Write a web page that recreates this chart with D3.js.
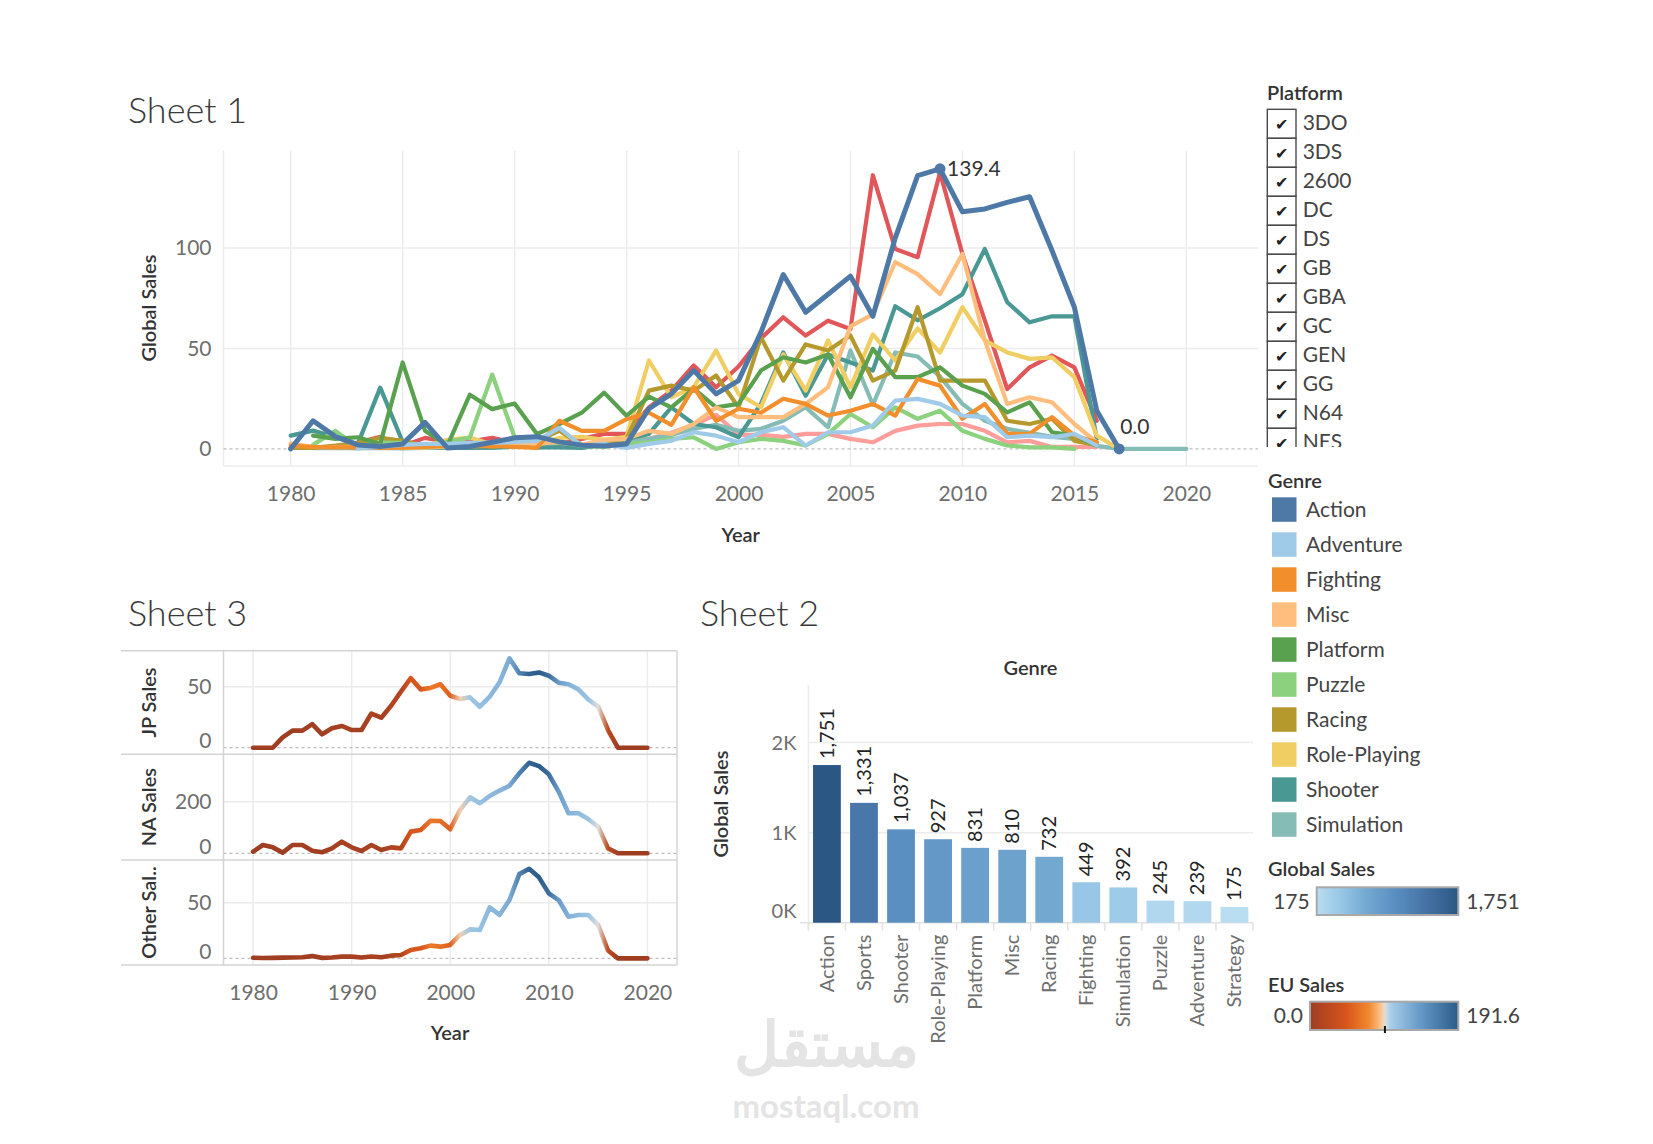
<!DOCTYPE html>
<html lang="en">
<head>
<meta charset="UTF-8">
<title>Video Game Sales</title>
<script src="https://cdnjs.cloudflare.com/ajax/libs/d3/7.8.5/d3.min.js"></script>
<style>
  body { margin: 0; background: #fff; }
  svg text { font-family: Lato, "Open Sans", sans-serif; }
</style>
</head>
<body>
<svg id="dash"></svg>
<script>
var W = 1653, H = 1144;

// ---------- data ----------
var years = d3.range(1980, 2021);

// Sheet 1: global sales per year, one array per genre (1980..2020)
var action = [0, 14, 6.1, 2, 1.2, 2.5, 13.2, 0.5, 1.2, 3.3,
  5.5, 6.1, 3.5, 1.8, 1.4, 2.5, 20, 27.4, 39, 27.4,
  34, 58, 86.8, 68, 77, 86, 66, 105, 136, 139.4,
  118, 119.4, 122.7, 125.5, 98.7, 70.5, 19, 0, null, null, null];
var adventure = [null, null, null, 0.4, 1, 2, 2.5, 2.5, 3, 3,
  3.5, 4, 10.5, 1.5, 2.5, 0.5, 2.5, 4, 8.3, 6.6,
  3.3, 8.3, 10.8, 1.7, 8.3, 8.3, 11.6, 24, 24.9, 22.4,
  16.6, 15.8, 5.8, 6.6, 5.8, 7.5, 1.7, null, null, null, null];
var fighting = [1.5, 1, 0.8, 0.8, 0.5, 0.6, 1, 1.5, 1.2, 1.5,
  1, 0.5, 14, 9, 9, 14.8, 18, 12, 30.7, 14,
  20, 18, 25, 22.4, 16.6, 19, 22.4, 16.6, 34.8, 31.5,
  15, 22.4, 7.5, 7.5, 15.8, 6.6, 3.3, null, null, null, null];
var misc = [2.7, 1, 0.9, 1.2, 1.5, 0.5, 0.8, 1.1, 3, 1.5,
  3, 2.5, 3.5, 2, 4.5, 5, 9, 7.5, 12.4, 20.7,
  15.8, 15.8, 15.8, 22.4, 30.7, 61, 67, 93, 87, 77,
  97, 54, 22.4, 25.7, 23.2, 12.4, 3.3, null, null, null, null];
var platform = [null, 6.6, 5, 5.8, 2.5, 43, 9, 1.6, 27, 19.8,
  22.6, 7.4, 12.4, 18, 28, 16.5, 26, 20.7, 30, 20.7,
  22.4, 39, 45.6, 43, 47, 25.7, 49.8, 35.7, 35.7, 40.6,
  31.5, 27.4, 18.2, 23.2, 8.3, 6.6, 1.7, null, null, null, null];
var puzzle = [null, 2, 9, 0.8, 3.1, 3, 0.5, 3.5, 5.6, 37,
  5.8, 3.5, 3.2, 1.5, 1, 2.5, 3.3, 5, 5.8, 0,
  3.3, 5, 4, 1.7, 7.5, 17.4, 10.8, 20.7, 15, 19,
  9, 5, 1.7, 0.8, 0.8, 0, null, null, null, null, null];
var racing = [0.5, 0.5, 1.6, 3, 5.5, 4, 1.5, 2, 3, 1,
  2.5, 4, 9, 2, 3.5, 5, 29, 31.5, 29, 36.5,
  20.7, 55.6, 34, 52, 49, 56.4, 34, 39, 70.5, 34,
  34, 34, 14, 12.4, 15, 4, 2, null, null, null, null];
var rolePlaying = [null, null, null, null, null, null, 1.5, 4.5, 5.7, 2.2,
  4.5, 2, 5.5, 6, 4.5, 6, 44, 25.7, 30.7, 49,
  27.4, 20.7, 47, 29, 54, 30.7, 57, 44, 60, 48,
  70.5, 54, 48, 44.8, 45.6, 35.7, 6.6, 0, null, null, null];
var shooter = [6.6, 9.1, 5.8, 2.5, 30.5, 3.5, 1, 0.6, 0.5, 0.6,
  1.5, 0.8, 0.8, 0.5, 2, 5, 7.5, 20.7, 12.4, 10.8,
  5.8, 22.4, 48, 26.5, 47, 43, 39, 71, 64, 70,
  77, 99.5, 73, 63, 66, 66, 5, null, null, null, null];
var simulation = [null, 0.4, 0.5, 0.3, 0.5, 0.2, 0.5, 0.5, 0.6, 0.5,
  1, 1.5, 3, 1.5, 2, 3.5, 5, 7, 10, 12,
  9, 10, 14, 20.7, 10.8, 49, 22, 48, 46, 36,
  22.4, 14, 10, 8, 6, 5, 1.5, 0, 0, 0, 0];
var sports = [0.5, 0.8, 1, 3.2, 6, 1.5, 5.5, 3.5, 3.6, 5.5,
  3, 5.5, 2.5, 5, 7.5, 7.5, 20.7, 29, 41.5, 30.7,
  41, 55, 65.5, 56.4, 63.8, 59.7, 136.2, 99.5, 95.4, 137.5,
  97, 64, 29.8, 40.6, 46.4, 40.6, 14, null, null, null, null];
var strategy = [null, null, null, null, null, null, null, null, null, null,
  null, 0.5, 3, 1, 4, 6, 5, 8, 12, 17,
  7, 7, 6, 7.5, 7.5, 5, 3.3, 9, 11.6, 12.4,
  12.4, 9, 3.3, 4, 1, 1, 1, null, null, null, null];

var lineGenres = ['Action', 'Adventure', 'Fighting', 'Misc', 'Platform', 'Puzzle',
  'Racing', 'Role-Playing', 'Shooter', 'Simulation', 'Sports', 'Strategy'];
var lineValues = [action, adventure, fighting, misc, platform, puzzle,
  racing, rolePlaying, shooter, simulation, sports, strategy];
var genreColors = ['#4e79a7', '#a0cbe8', '#f28e2b', '#ffbe7d', '#59a14f', '#8cd17d',
  '#b6992d', '#f1ce63', '#499894', '#86bcb6', '#e15759', '#ff9d9a'];

// Sheet 3: regional sales per year, colored by EU sales
var jpSales = [0, 0, 0, 8.5, 14, 14, 19.4, 11, 16, 17.8,
  14.5, 14.5, 28, 24.6, 34.4, 46, 57, 47.8, 49, 52,
  42.6, 40, 41.3, 33.6, 41.8, 53.6, 73.2, 61, 60.4, 61.7,
  59, 53.3, 52, 47.8, 39.6, 33.6, 14.5, 0, 0, 0, 0];
var naSales = [6.5, 32, 23, 2.6, 32, 32, 10, 4, 19, 45,
  23, 9, 32, 13, 23, 19, 84, 90, 126, 125,
  93, 168, 217, 194, 222, 243, 262, 310, 351, 338,
  306, 239, 155, 155, 133, 103, 19, 0, 0, 0, 0];
var otherSales = [0.5, 0.3, 0.4, 0.6, 0.8, 1, 2, 0.4, 0.8, 1.5,
  1.5, 0.8, 1.6, 1, 2.4, 3, 7.5, 9, 11.4, 10.5,
  12, 21, 26, 25.4, 45.8, 39, 52.4, 75.7, 80.5, 72.8,
  58.4, 52.4, 37.4, 39, 39, 30, 7, 0, 0, 0, 0];
var euSales = [0.5, 1.9, 1.6, 0.8, 2.1, 4.7, 2.8, 1.4, 6.6, 8.4,
  7.6, 3.9, 11.7, 4.7, 14.9, 14.9, 47.3, 48.3, 66.9, 62.7,
  52.8, 94, 109.7, 114, 120, 122, 129, 160, 184.4, 191.6,
  176.6, 140, 125, 118, 112, 97, 26.8, 0, 0, 0, 0];

// Sheet 2: global sales by genre
var barGenres = ['Action', 'Sports', 'Shooter', 'Role-Playing', 'Platform', 'Misc',
  'Racing', 'Fighting', 'Simulation', 'Puzzle', 'Adventure', 'Strategy'];
var barSales = [1751, 1331, 1037, 927, 831, 810, 732, 449, 392, 245, 239, 175];

var platforms = ['3DO', '3DS', '2600', 'DC', 'DS', 'GB', 'GBA', 'GC', 'GEN', 'GG', 'N64', 'NES'];
var legendGenres = lineGenres.slice(0, 10);

// ---------- colour scales ----------
var euColor = d3.scaleLinear()
  .domain([0, 0.25, 0.4, 0.48, 0.505, 0.54, 0.75, 1].map(function(t) { return t * 191.6; }))
  .range(['#9e3d22', '#d9561c', '#f28a30', '#fbc58f', '#e2dfdc', '#a9cfea', '#6497c6', '#2b5b88']);
var globalColor = d3.scaleLinear()
  .domain([175, 449, 732, 1037, 1331, 1751])
  .range(['#b9ddf1', '#97c6e6', '#73a8d1', '#5a8fc2', '#4a77aa', '#2a5783']);

var svg = d3.select('#dash').attr('width', W).attr('height', H);
var defs = svg.append('defs');
var gridCol = '#ececec', tickCol = '#6e6e6e', titleCol = '#333';

function styleAxis(g, size) {
  g.attr('font-family', 'Lato, sans-serif').attr('font-size', size).style('color', tickCol);
  g.select('.domain').remove();
}

// ---------- watermark ----------
svg.append('text').attr('x', 826).attr('y', 1066).attr('text-anchor', 'middle')
  .attr('font-family', 'DejaVu Sans').attr('font-weight', 'bold').attr('font-size', 62)
  .attr('fill', '#e4e4e4').text('مستقل');
svg.append('text').attr('x', 826).attr('y', 1118).attr('text-anchor', 'middle')
  .attr('font-family', 'DejaVu Sans').attr('font-weight', 'bold').attr('font-size', 33)
  .attr('fill', '#e4e4e4').text('mostaql.com');

// ---------- titles ----------
[['Sheet 1', 128, 123], ['Sheet 3', 128, 626], ['Sheet 2', 700, 626]].forEach(function(t) {
  svg.append('text').attr('x', t[1]).attr('y', t[2]).attr('font-size', 36)
    .attr('font-weight', 300).attr('fill', '#3a3a3a').text(t[0]);
});

// ---------- Sheet 1 ----------
var x1 = d3.scaleLinear().domain([1977, 2023.2]).range([223.5, 1258]);
var y1 = d3.scaleLinear().domain([-8.5, 148.4]).range([466, 150.7]);
var g1 = svg.append('g');

g1.selectAll('.vg').data(d3.range(1980, 2021, 5)).enter().append('line')
  .attr('x1', function(d) { return x1(d); }).attr('x2', function(d) { return x1(d); })
  .attr('y1', 150.7).attr('y2', 466).attr('stroke', gridCol).attr('stroke-width', 1.5);
g1.selectAll('.hg').data([50, 100]).enter().append('line')
  .attr('x1', 223.5).attr('x2', 1258)
  .attr('y1', function(d) { return y1(d); }).attr('y2', function(d) { return y1(d); })
  .attr('stroke', gridCol).attr('stroke-width', 1.5);
g1.append('line').attr('x1', 223.5).attr('x2', 223.5).attr('y1', 150.7).attr('y2', 466)
  .attr('stroke', gridCol).attr('stroke-width', 1.5);
g1.append('line').attr('x1', 223.5).attr('x2', 1258).attr('y1', 466).attr('y2', 466)
  .attr('stroke', gridCol).attr('stroke-width', 1.5);
g1.append('line').attr('x1', 223.5).attr('x2', 1258).attr('y1', y1(0)).attr('y2', y1(0))
  .attr('stroke', '#bdbdbd').attr('stroke-width', 1.2).attr('stroke-dasharray', '3,3');

var line1 = d3.line()
  .defined(function(d) { return d[1] != null; })
  .x(function(d) { return x1(d[0]); })
  .y(function(d) { return y1(d[1]); });

// draw from last to first so Action sits on top
for (var i = lineGenres.length - 1; i >= 0; i--) {
  var pts = years.map(function(yr, k) { return [yr, lineValues[i][k]]; });
  g1.append('path').datum(pts)
    .attr('d', line1)
    .attr('fill', 'none')
    .attr('stroke', genreColors[i])
    .attr('stroke-width', i === 0 ? 5 : 4.2)
    .attr('stroke-linejoin', 'round')
    .attr('stroke-linecap', 'round');
}

// marked points on Action
var marks = [[2009, 139.4], [2017, 0]];
g1.selectAll('.mk').data(marks).enter().append('circle')
  .attr('cx', function(d) { return x1(d[0]); }).attr('cy', function(d) { return y1(d[1]); })
  .attr('r', 5.5).attr('fill', genreColors[0]);
g1.append('text').attr('x', x1(2009) + 7).attr('y', y1(139.4)).attr('dy', '0.35em')
  .attr('font-size', 21).attr('fill', titleCol).text(d3.format('.1f')(139.4));
g1.append('text').attr('x', x1(2017) + 1).attr('y', y1(0) - 22).attr('dy', '0.35em')
  .attr('font-size', 21).attr('fill', titleCol).text(d3.format('.1f')(0));

g1.append('g').attr('transform', 'translate(0,466)')
  .call(d3.axisBottom(x1).tickValues(d3.range(1980, 2021, 5)).tickFormat(d3.format('d'))
    .tickSize(0).tickPadding(20))
  .call(styleAxis, 21);
g1.append('g').attr('transform', 'translate(223.5,0)')
  .call(d3.axisLeft(y1).tickValues([0, 50, 100]).tickSize(0).tickPadding(12))
  .call(styleAxis, 21);
g1.append('text').attr('x', 740.7).attr('y', 542).attr('text-anchor', 'middle')
  .attr('font-size', 20).attr('font-weight', 600).attr('fill', titleCol).text('Year');
g1.append('text').attr('transform', 'translate(149,308) rotate(-90)').attr('dy', '0.35em')
  .attr('text-anchor', 'middle').attr('font-size', 20).attr('font-weight', 600)
  .attr('fill', titleCol).text('Global Sales');

// ---------- Sheet 3 ----------
var x3 = d3.scaleLinear().domain([1977, 2023]).range([223.5, 677]);
var panels = [
  { label: 'JP Sales', values: jpSales, top: 650.7, bottom: 754.3, domain: [-5.4, 79.5], tick: 50 },
  { label: 'NA Sales', values: naSales, top: 754.3, bottom: 860, domain: [-26, 383.7], tick: 200 },
  { label: 'Other Sal..', values: otherSales, top: 860, bottom: 965, domain: [-6, 88.4], tick: 50 }
];
var g3 = svg.append('g');

var grad = defs.append('linearGradient').attr('id', 'euGrad')
  .attr('gradientUnits', 'userSpaceOnUse')
  .attr('x1', x3(1980)).attr('x2', x3(2020)).attr('y1', 0).attr('y2', 0);
grad.selectAll('stop').data(years).enter().append('stop')
  .attr('offset', function(d) { return (d - 1980) / 40; })
  .attr('stop-color', function(d, k) { return euColor(euSales[k]); });

g3.selectAll('.vg').data(d3.range(1980, 2021, 10)).enter().append('line')
  .attr('x1', function(d) { return x3(d); }).attr('x2', function(d) { return x3(d); })
  .attr('y1', 650.7).attr('y2', 965).attr('stroke', gridCol).attr('stroke-width', 1.5);

panels.forEach(function(p) {
  var y = d3.scaleLinear().domain(p.domain).range([p.bottom, p.top]);
  g3.append('line').attr('x1', 223.5).attr('x2', 677).attr('y1', y(p.tick)).attr('y2', y(p.tick))
    .attr('stroke', gridCol).attr('stroke-width', 1.5);
  g3.append('line').attr('x1', 223.5).attr('x2', 677).attr('y1', y(0)).attr('y2', y(0))
    .attr('stroke', '#bdbdbd').attr('stroke-width', 1.2).attr('stroke-dasharray', '3,3');
  var ln = d3.line().x(function(d, k) { return x3(years[k]); }).y(function(d) { return y(d); });
  g3.append('path').datum(p.values).attr('d', ln).attr('fill', 'none')
    .attr('stroke', 'url(#euGrad)').attr('stroke-width', 4.6)
    .attr('stroke-linejoin', 'round').attr('stroke-linecap', 'round');
  var ax = g3.append('g').attr('transform', 'translate(223.5,0)')
    .call(d3.axisLeft(y).tickValues([0, p.tick]).tickSize(0).tickPadding(12))
    .call(styleAxis, 21);
  ax.selectAll('.tick').filter(function(d) { return d === 0; }).select('text').attr('y', -7);
  g3.append('text').attr('transform', 'translate(149,' + ((p.top + p.bottom) / 2) + ') rotate(-90)')
    .attr('dy', '0.35em').attr('text-anchor', 'middle').attr('font-size', 20)
    .attr('font-weight', 600).attr('fill', titleCol).text(p.label);
  g3.append('line').attr('x1', 121).attr('x2', 677).attr('y1', p.top).attr('y2', p.top)
    .attr('stroke', '#d4d4d4').attr('stroke-width', 1.5);
});
g3.append('line').attr('x1', 121).attr('x2', 677).attr('y1', 965).attr('y2', 965)
  .attr('stroke', '#d4d4d4').attr('stroke-width', 1.5);
[223.5, 677].forEach(function(xv) {
  g3.append('line').attr('x1', xv).attr('x2', xv).attr('y1', 650.7).attr('y2', 965)
    .attr('stroke', '#d4d4d4').attr('stroke-width', 1.5);
});
g3.append('g').attr('transform', 'translate(0,965)')
  .call(d3.axisBottom(x3).tickValues(d3.range(1980, 2021, 10)).tickFormat(d3.format('d'))
    .tickSize(0).tickPadding(20))
  .call(styleAxis, 21);
g3.append('text').attr('x', 450).attr('y', 1040).attr('text-anchor', 'middle')
  .attr('font-size', 20).attr('font-weight', 600).attr('fill', titleCol).text('Year');

// ---------- Sheet 2 ----------
var xb = d3.scaleBand().domain(barGenres).range([808.4, 1253]).paddingInner(0.25).paddingOuter(0.125);
var yb = d3.scaleLinear().domain([0, 2640]).range([922.7, 685]);
var g2 = svg.append('g');

g2.selectAll('.hg').data([1000, 2000]).enter().append('line')
  .attr('x1', 808.4).attr('x2', 1253)
  .attr('y1', function(d) { return yb(d); }).attr('y2', function(d) { return yb(d); })
  .attr('stroke', gridCol).attr('stroke-width', 1.5);
g2.append('line').attr('x1', 808.4).attr('x2', 808.4).attr('y1', 685).attr('y2', 930)
  .attr('stroke', gridCol).attr('stroke-width', 1.5);
g2.append('line').attr('x1', 800).attr('x2', 1253).attr('y1', yb(0)).attr('y2', yb(0))
  .attr('stroke', '#e2e2e2').attr('stroke-width', 1.5);
var gap = (xb.step() - xb.bandwidth()) / 2;
var seps = barGenres.map(function(d) { return xb(d) - gap; }).concat([xb(barGenres[11]) + xb.bandwidth() + gap]);
g2.selectAll('.sep').data(seps).enter().append('line')
  .attr('x1', function(d) { return d; }).attr('x2', function(d) { return d; })
  .attr('y1', yb(0)).attr('y2', yb(0) + 8).attr('stroke', '#e2e2e2').attr('stroke-width', 1.5);

g2.selectAll('.bar').data(barGenres).enter().append('rect')
  .attr('x', function(d) { return xb(d); })
  .attr('y', function(d, k) { return yb(barSales[k]); })
  .attr('width', xb.bandwidth())
  .attr('height', function(d, k) { return yb(0) - yb(barSales[k]); })
  .attr('fill', function(d, k) { return globalColor(barSales[k]); });
g2.selectAll('.blab').data(barGenres).enter().append('text')
  .attr('transform', function(d, k) {
    return 'translate(' + (xb(d) + xb.bandwidth() / 2) + ',' + (yb(barSales[k]) - 6) + ') rotate(-90)';
  })
  .attr('dy', '0.35em').attr('font-size', 20).attr('fill', '#222')
  .text(function(d, k) { return d3.format(',')(barSales[k]); });

var axb = g2.append('g').attr('transform', 'translate(0,' + yb(0) + ')')
  .call(d3.axisBottom(xb).tickSize(0))
  .call(styleAxis, 20);
axb.selectAll('text').attr('transform', 'rotate(-90)').attr('text-anchor', 'end')
  .attr('x', -12).attr('y', 0).attr('dy', '0.35em');
var ayb = g2.append('g').attr('transform', 'translate(808.4,0)')
  .call(d3.axisLeft(yb).tickValues([0, 1000, 2000])
    .tickFormat(function(d) { return (d / 1000) + 'K'; }).tickSize(0).tickPadding(12))
  .call(styleAxis, 20);
ayb.selectAll('.tick').filter(function(d) { return d === 0; }).select('text').attr('y', -12);
g2.append('text').attr('x', 1030.5).attr('y', 675).attr('text-anchor', 'middle')
  .attr('font-size', 20).attr('font-weight', 600).attr('fill', titleCol).text('Genre');
g2.append('text').attr('transform', 'translate(721,804) rotate(-90)').attr('dy', '0.35em')
  .attr('text-anchor', 'middle').attr('font-size', 20).attr('font-weight', 600)
  .attr('fill', titleCol).text('Global Sales');

// ---------- legends ----------
var gl = svg.append('g');
gl.append('text').attr('x', 1267).attr('y', 93).attr('dy', '0.35em').attr('font-size', 20)
  .attr('font-weight', 600).attr('fill', titleCol).text('Platform');
defs.append('clipPath').attr('id', 'platClip').append('rect')
  .attr('x', 1255).attr('y', 100).attr('width', 300).attr('height', 347);
var gp = gl.append('g').attr('clip-path', 'url(#platClip)');
var rowY = d3.scaleLinear().domain([0, 1]).range([109.3, 138.3]);
var prow = gp.selectAll('.pr').data(platforms).enter().append('g')
  .attr('transform', function(d, k) { return 'translate(1267.3,' + rowY(k) + ')'; });
prow.append('rect').attr('width', 28.7).attr('height', 29).attr('fill', '#fff')
  .attr('stroke', '#4a4a4a').attr('stroke-width', 1.4);
prow.append('text').attr('x', 14.3).attr('y', 15).attr('dy', '0.35em').attr('text-anchor', 'middle')
  .attr('font-family', 'DejaVu Sans').attr('font-size', 16).attr('fill', '#222').text('\u2714');
prow.append('text').attr('x', 35.4).attr('y', 13).attr('dy', '0.35em').attr('font-size', 21)
  .attr('fill', '#444').text(function(d) { return d; });

gl.append('text').attr('x', 1268).attr('y', 481).attr('dy', '0.35em').attr('font-size', 20)
  .attr('font-weight', 600).attr('fill', titleCol).text('Genre');
var grow = gl.selectAll('.gr').data(legendGenres).enter().append('g')
  .attr('transform', function(d, k) { return 'translate(1272,' + (497.3 + k * 35) + ')'; });
grow.append('rect').attr('width', 24.5).attr('height', 24.5)
  .attr('fill', function(d, k) { return genreColors[k]; });
grow.append('text').attr('x', 34).attr('y', 12.2).attr('dy', '0.35em').attr('font-size', 21)
  .attr('fill', '#444').text(function(d) { return d; });

function rampLegend(id, scale, lo, hi, x0, x1r, yTop, yBot, title, titleY, loText, hiText) {
  var gg = defs.append('linearGradient').attr('id', id);
  d3.range(0, 1.0001, 0.02).forEach(function(t) {
    gg.append('stop').attr('offset', t).attr('stop-color', scale(lo + t * (hi - lo)));
  });
  gl.append('text').attr('x', 1268).attr('y', titleY).attr('dy', '0.35em').attr('font-size', 20)
    .attr('font-weight', 600).attr('fill', titleCol).text(title);
  gl.append('rect').attr('x', x0).attr('y', yTop).attr('width', x1r - x0).attr('height', yBot - yTop)
    .attr('fill', 'url(#' + id + ')').attr('stroke', '#a8a8a8').attr('stroke-width', 2);
  gl.append('text').attr('x', x0 - 7).attr('y', (yTop + yBot) / 2).attr('dy', '0.35em')
    .attr('text-anchor', 'end').attr('font-size', 21).attr('fill', '#444').text(loText);
  gl.append('text').attr('x', x1r + 8).attr('y', (yTop + yBot) / 2).attr('dy', '0.35em')
    .attr('font-size', 21).attr('fill', '#444').text(hiText);
}
rampLegend('globGrad', globalColor, 175, 1751, 1316.7, 1458.3, 887.3, 915,
  'Global Sales', 869, d3.format(',')(175), d3.format(',')(1751));
rampLegend('euLegGrad', euColor, 0, 191.6, 1310, 1458.3, 1001.7, 1030,
  'EU Sales', 985, d3.format('.1f')(0), d3.format('.1f')(191.6));
var euMid = d3.scaleLinear().domain([0, 191.6]).range([1310, 1458.3]);
gl.append('line').attr('x1', euMid(96.8)).attr('x2', euMid(96.8)).attr('y1', 1026).attr('y2', 1033)
  .attr('stroke', '#111').attr('stroke-width', 2);
</script>
</body>
</html>
